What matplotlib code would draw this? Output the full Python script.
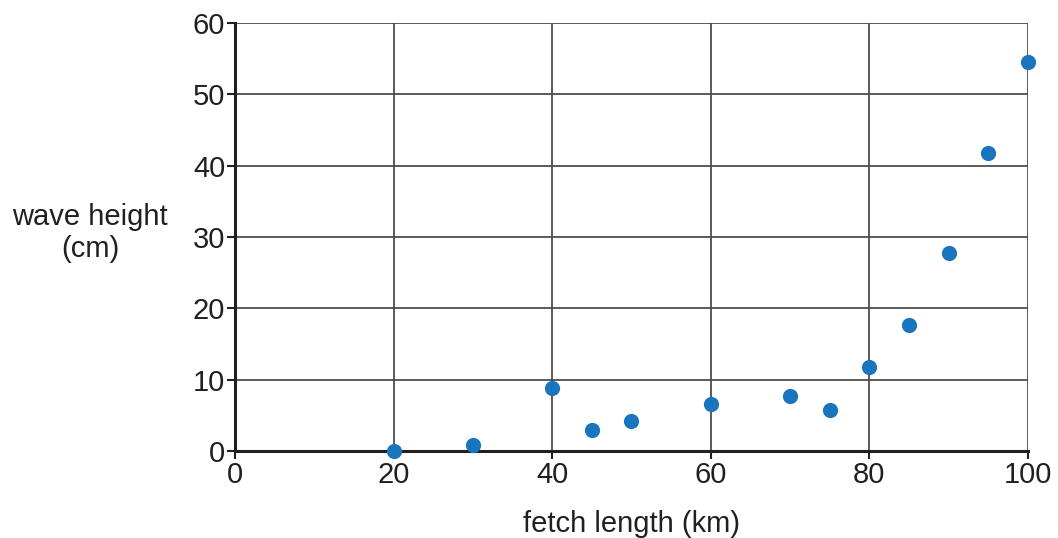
import matplotlib.pyplot as plt

plt.rcParams['font.family'] = ['Liberation Sans', 'DejaVu Sans']

fetch_km = [20, 30, 40, 45, 50, 60, 70, 75, 80, 85, 90, 95, 100]
wave_cm = [0.0, 0.85, 8.8, 2.9, 4.2, 6.6, 7.7, 5.75, 11.8, 17.7, 27.8, 41.8, 54.6]

x_ticks = [0, 20, 40, 60, 80, 100]
y_ticks = [0, 10, 20, 30, 40, 50, 60]

fig = plt.figure(figsize=(10.58, 5.38), dpi=100)
ax = fig.add_axes([0.2221, 0.1617, 0.7495, 0.7955])

ax.set_xlim(0, 100)
ax.set_ylim(0, 60)
ax.set_xticks(x_ticks)
ax.set_yticks(y_ticks)
ax.grid(True, color='#4d4d4d', linewidth=1.3)
ax.set_axisbelow(True)

for s in ['top', 'right']:
    ax.spines[s].set_visible(False)
for s in ['left', 'bottom']:
    ax.spines[s].set_linewidth(2.2)
    ax.spines[s].set_color('#231f20')

ax.tick_params(length=6, width=1.5, color='#231f20', labelsize=21,
               labelcolor='#231f20', pad=1)

ax.scatter(fetch_km, wave_cm, s=120, color='#1a75bf', zorder=5, clip_on=False,
           linewidths=0)

ax.set_xlabel('fetch length (km)', fontsize=21, color='#231f20', labelpad=15)
fig.text(0.085, 0.567, 'wave height\n(cm)', fontsize=21, color='#231f20',
         ha='center', va='center', linespacing=1.2)

fig.savefig('out.png', dpi=100)
